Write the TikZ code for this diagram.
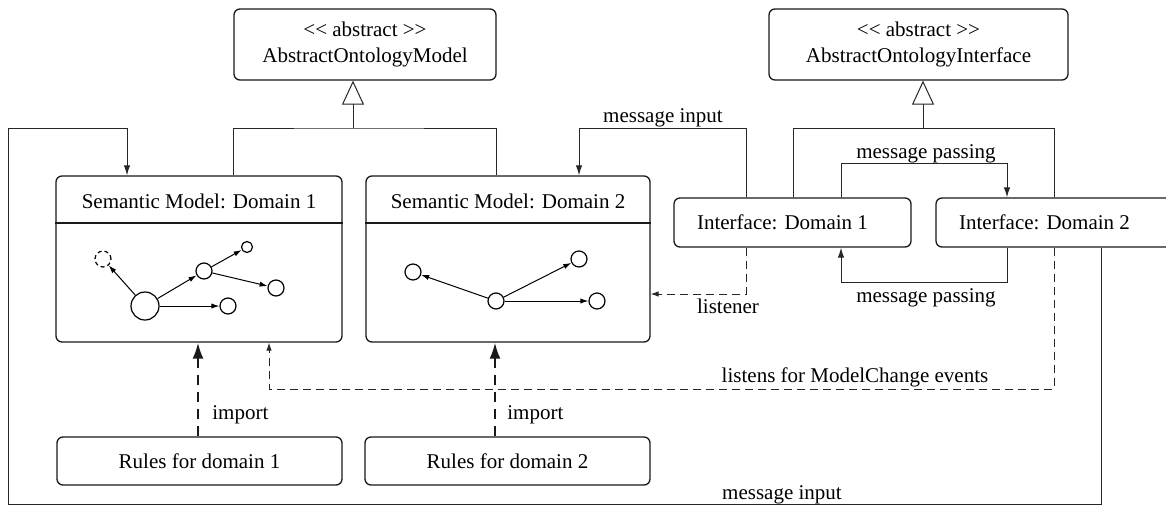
\documentclass[tikz,border=0pt]{standalone}
\usepackage{fontspec}
\setmainfont{Liberation Serif}
\usetikzlibrary{arrows.meta}
\begin{document}
\begin{tikzpicture}[x=0.5pt,y=-0.5pt,
  txt/.style={font=\fontsize{10.5pt}{13pt}\selectfont, inner sep=0pt},
  box/.style={txt, draw=black!90, rounded corners=3pt, line width=0.65pt, align=center},
  gen/.style={line width=0.5pt, draw=black!85},
  flow/.style={gen, -{Latex[length=5pt,width=3.2pt]}},
  dflow/.style={gen, dash pattern=on 4pt off 2.5pt, -{Latex[length=4pt,width=2.8pt]}},
  imp/.style={line width=1.1pt, draw=black!90, dash pattern=on 5pt off 3.5pt, -{Latex[length=8pt,width=5.5pt]}},
  gnode/.style={circle, draw, line width=0.6pt, inner sep=0pt},
  garr/.style={line width=0.5pt, -{Latex[length=4pt,width=2.6pt]}},
  inherit/.style={gen, -{Triangle[open,length=12pt,width=11pt]}}
]
\fill[white] (0,0) rectangle (1166,509);
\useasboundingbox (0,0) rectangle (1166,509);

% abstract base classes
\node[box, minimum width=131pt, minimum height=35.5pt] (am) at (365,44.5)
  {<{}< abstract >{}>\\AbstractOntologyModel};
\node[box, minimum width=149.5pt, minimum height=35.5pt] (ai) at (918.5,44.5)
  {<{}< abstract >{}>\\AbstractOntologyInterface};

% semantic models
\node[box, minimum width=143pt, minimum height=83pt] (sm1) at (199,259) {};
\node[box, minimum width=142pt, minimum height=83pt] (sm2) at (508,259) {};
\node[txt] (t1) at (199,201) {Semantic Model: Domain 1};
\node[txt] (t2) at (508,201) {Semantic Model: Domain 2};
\coordinate (dv) at (0,223);
\draw[line width=0.65pt, black!90] (sm1.west |- dv) -- (sm1.east |- dv);
\draw[line width=0.65pt, black!90] (sm2.west |- dv) -- (sm2.east |- dv);

% interfaces
\node[box, minimum width=118.5pt, minimum height=24.5pt,
  label={[txt, xshift=-5pt]center:{Interface: Domain 1}}] (if1) at (792.5,222.5) {};
\node[box, minimum width=118.5pt, minimum height=24.5pt,
  label={[txt, xshift=-5pt]center:{Interface: Domain 2}}] (if2) at (1054.5,222.5) {};

% rule sets
\node[box, minimum width=142.5pt, minimum height=24pt] (r1) at (199.5,461) {Rules for domain 1};
\node[box, minimum width=142.5pt, minimum height=24pt] (r2) at (507.5,461) {Rules for domain 2};

% graph inside model 1
\node[gnode, dash pattern=on 2pt off 1.5pt, minimum size=8pt] (n1a) at (103,259) {};
\node[gnode, minimum size=14pt] (n1b) at (145,306) {};
\node[gnode, minimum size=8pt] (n1c) at (204,271) {};
\node[gnode, minimum size=5.5pt] (n1d) at (247,247) {};
\node[gnode, minimum size=8pt] (n1e) at (276,288) {};
\node[gnode, minimum size=8pt] (n1f) at (228,306) {};
\draw[garr] (n1b) -- (n1a);
\draw[garr] (n1b) -- (n1c);
\draw[garr] (n1b) -- (n1f);
\draw[garr] (n1c) -- (n1d);
\draw[garr] (n1c) -- (n1e);

% graph inside model 2
\node[gnode, minimum size=8pt] (n2a) at (413,272) {};
\node[gnode, minimum size=8pt] (n2b) at (496,301) {};
\node[gnode, minimum size=8pt] (n2c) at (579,259) {};
\node[gnode, minimum size=8pt] (n2d) at (597,301) {};
\draw[garr] (n2b) -- (n2a);
\draw[garr] (n2b) -- (n2c);
\draw[garr] (n2b) -- (n2d);

% generalisation
\coordinate (gm) at (353,128);
\draw[inherit] (gm) -- (am.south -| gm);
\draw[gen] (sm1.north -| am.west) |- (gm) -| (sm2.north -| am.east);
\coordinate (gi) at (923,128);
\coordinate (gi1) at (793,128);
\coordinate (gi2) at (1054,128);
\draw[inherit] (gi) -- (ai.south -| gi);
\draw[gen] (if1.north -| gi1) -- (gi1) -- (gi2) -- (if2.north -| gi2);

% message input to model 2
\coordinate (mia) at (746,128);
\coordinate (mib) at (579,128);
\draw[flow] (if1.north -| mia) -- (mia) -- (mib) -- (sm2.north -| mib);
\node[txt, anchor=base] (lmi1) at (663,122) {message input};

% message input to model 1 (outer loop)
\coordinate (ol1) at (1101,504);
\coordinate (ol2) at (8,504);
\coordinate (ol3) at (8,128);
\coordinate (ol4) at (127,128);
\draw[flow] (if2.south -| ol1) -- (ol1) -- (ol2) -- (ol3) -- (ol4) -- (sm1.north -| ol4);
\node[txt, anchor=base] (lmi2) at (782,499) {message input};

% message passing between interfaces
\coordinate (mp1) at (841,163);
\coordinate (mp2) at (1007,163);
\draw[flow] (if1.north -| mp1) -- (mp1) -- (mp2) -- (if2.north -| mp2);
\node[txt, anchor=base] (lmp1) at (926,158) {message passing};
\coordinate (mq1) at (1007,282);
\coordinate (mq2) at (841,282);
\draw[flow] (if2.south -| mq1) -- (mq1) -- (mq2) -- (if1.south -| mq2);
\node[txt, anchor=base] (lmp2) at (926,302) {message passing};

% listeners
\coordinate (ls) at (746,294);
\draw[dflow] (if1.south -| ls) -- (ls) -- (sm2.east |- ls);
\node[txt, anchor=base] (lls) at (728,313) {listener};
\coordinate (lc1) at (1054,389);
\coordinate (lc2) at (269,389);
\draw[dflow] (if2.south -| lc1) -- (lc1) -- (lc2) -- (sm1.south -| lc2);
\node[txt, anchor=base] (llc) at (855,382) {listens for ModelChange events};

% rule imports
\coordinate (im1) at (198,0);
\coordinate (im2) at (495,0);
\draw[imp] (r1.north -| im1) -- (sm1.south -| im1);
\draw[imp] (r2.north -| im2) -- (sm2.south -| im2);
\node[txt, anchor=base west] (lim1) at (212,419) {import};
\node[txt, anchor=base west] (lim2) at (507,419) {import};
\end{tikzpicture}
\end{document}
